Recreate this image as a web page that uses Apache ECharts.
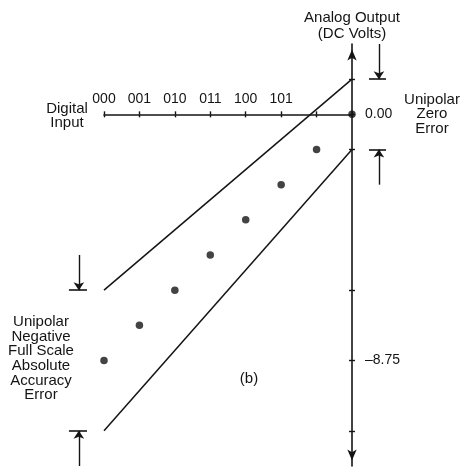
<!DOCTYPE html>
<html>
<head>
<meta charset="utf-8">
<script src="https://cdn.jsdelivr.net/npm/echarts@6/dist/echarts.min.js"></script>
<style>
  html, body { margin: 0; padding: 0; background: #fff; }
  #chart { width: 462px; height: 467px; }
</style>
</head>
<body>
<div id="chart"></div>
<script>
// ---- data ----
const codes = ['000', '001', '010', '011', '100', '101', '110', '111'];
const codeLabels = ['000', '001', '010', '011', '100', '101', '', ''];
const idealOutput = [-8.75, -7.5, -6.25, -5.0, -3.75, -2.5, -1.25, 0.0];
const upperBound = [-6.25, 1.25];   // at code 000 and code 111
const lowerBound = [-11.25, -1.25]; // at code 000 and code 111
const yTickValues = [1.25, 0, -1.25, -6.25, -8.75, -11.25];
const yLabelValues = [0, -8.75];
const yLabelText = { '0': '0.00', '-8.75': '\u20138.75' };
// annotation dimension arrows (data coordinates): [x, yFrom, yTo]
const zeroErrorArrows = [[7.76, 2.5, 1.25], [7.76, -2.5, -1.25]];
const zeroErrorBars = [[7.48, 7.96, 1.25], [7.48, 7.96, -1.25]];
const fullScaleArrows = [[-0.71, -5.0, -6.25], [-0.71, -12.5, -11.25]];
const fullScaleBars = [[-0.99, -0.48, -6.25], [-0.99, -0.48, -11.25]];

const INK = '#141414';
const FONT = '"Liberation Sans", Arial, Helvetica, sans-serif';
const Y_MIN = -12.5, Y_MAX = 2.5;
const GRID = { left: 104, right: 110, top: 44, bottom: 1 };
const plotH = 467 - GRID.top - GRID.bottom;
// x axis sits on the zero line of the y axis: shift a top-positioned axis down to it
const xAxisShift = -plotH * (Y_MAX - 0) / (Y_MAX - Y_MIN);

const chart = echarts.init(document.getElementById('chart'), null, { renderer: 'canvas' });

const arrowData = zeroErrorArrows.concat(fullScaleArrows).map(a => ({ coords: [[a[0], a[1]], [a[0], a[2]]] }));
const barData = zeroErrorBars.concat(fullScaleBars).map(b => ({ coords: [[b[0], b[2]], [b[1], b[2]]] }));

const option = {
  animation: false,
  backgroundColor: '#fff',
  grid: Object.assign({ containLabel: false }, GRID),
  xAxis: [{
    type: 'value', min: 0, max: codes.length - 1, interval: 1, position: 'top', offset: xAxisShift,
    axisLine: { show: true, onZero: false, lineStyle: { color: INK, width: 1.6 } },
    axisTick: { show: true, length: 3, lineStyle: { color: INK, width: 1.4 } },
    axisLabel: {
      margin: 8, color: INK, fontFamily: FONT, fontSize: 14,
      formatter: v => codeLabels[Math.round(v)] || ''
    },
    splitLine: { show: false }
  }, {
    type: 'value', min: 0, max: codes.length - 1, interval: 1, position: 'top', offset: xAxisShift,
    axisLine: { show: false, onZero: false },
    axisTick: { show: true, inside: true, length: 3, lineStyle: { color: INK, width: 1.4 } },
    axisLabel: { show: false },
    splitLine: { show: false }
  }],
  yAxis: [{
    type: 'value', min: Y_MIN, max: Y_MAX, position: 'right',
    name: 'Analog Output\n(DC Volts)', nameLocation: 'end', nameGap: 2,
    nameTextStyle: { color: INK, fontFamily: FONT, fontSize: 15, lineHeight: 16, align: 'center' },
    axisLine: { show: true, onZero: false, symbol: ['arrow', 'arrow'], symbolSize: [7, 11],
      symbolOffset: [5.5, -5.5], lineStyle: { color: INK, width: 1.6 } },
    axisTick: { show: true, customValues: yTickValues, length: 3, lineStyle: { color: INK, width: 1.4 } },
    axisLabel: { show: true, customValues: yLabelValues, margin: 13, color: INK, fontFamily: FONT, fontSize: 14,
      formatter: v => yLabelText[String(v)] || String(v) },
    splitLine: { show: false }
  }, {
    type: 'value', min: Y_MIN, max: Y_MAX, position: 'right',
    axisLine: { show: false, onZero: false },
    axisTick: { show: true, inside: true, customValues: yTickValues, length: 3, lineStyle: { color: INK, width: 1.4 } },
    axisLabel: { show: false },
    splitLine: { show: false }
  }],
  series: [
    {
      name: 'upper', type: 'line', xAxisIndex: 0, yAxisIndex: 0, clip: false,
      data: [[0, upperBound[0]], [codes.length - 1, upperBound[1]]],
      showSymbol: false, symbol: 'none', lineStyle: { color: INK, width: 1.5 }, silent: true
    },
    {
      name: 'lower', type: 'line', xAxisIndex: 0, yAxisIndex: 0, clip: false,
      data: [[0, lowerBound[0]], [codes.length - 1, lowerBound[1]]],
      showSymbol: false, symbol: 'none', lineStyle: { color: INK, width: 1.5 }, silent: true
    },
    {
      name: 'ideal', type: 'scatter', xAxisIndex: 0, yAxisIndex: 0, clip: false, z: 5,
      data: idealOutput.map((v, i) => [i, v]),
      symbol: 'circle', symbolSize: 7.5, itemStyle: { color: INK }
    },
    {
      name: 'arrows', type: 'lines', coordinateSystem: 'cartesian2d', xAxisIndex: 0, yAxisIndex: 0,
      clip: false, data: arrowData, symbol: ['none', 'arrow'], symbolSize: 8,
      lineStyle: { color: INK, width: 1.4, opacity: 1, curveness: 0 }, silent: true
    },
    {
      name: 'bars', type: 'lines', coordinateSystem: 'cartesian2d', xAxisIndex: 0, yAxisIndex: 0,
      clip: false, data: barData, symbol: ['none', 'none'],
      lineStyle: { color: INK, width: 1.6, opacity: 1, curveness: 0 }, silent: true
    }
  ],
  graphic: [
    { type: 'text', x: 67, y: 116, style: { text: 'Digital\nInput', align: 'center', verticalAlign: 'middle',
      font: '15px ' + FONT, lineHeight: 14.5, fill: INK } },
    { type: 'text', x: 432, y: 114, style: { text: 'Unipolar\nZero\nError', align: 'center', verticalAlign: 'middle',
      font: '15px ' + FONT, lineHeight: 14.5, fill: INK } },
    { type: 'text', x: 41, y: 358.5, style: { text: 'Unipolar\nNegative\nFull Scale\nAbsolute\nAccuracy\nError',
      align: 'center', verticalAlign: 'middle', font: '15px ' + FONT, lineHeight: 14.6, fill: INK } },
    { type: 'text', x: 249, y: 379, style: { text: '(b)', align: 'center', verticalAlign: 'middle',
      font: '15px ' + FONT, fill: INK } }
  ]
};
chart.setOption(option);
</script>
</body>
</html>
